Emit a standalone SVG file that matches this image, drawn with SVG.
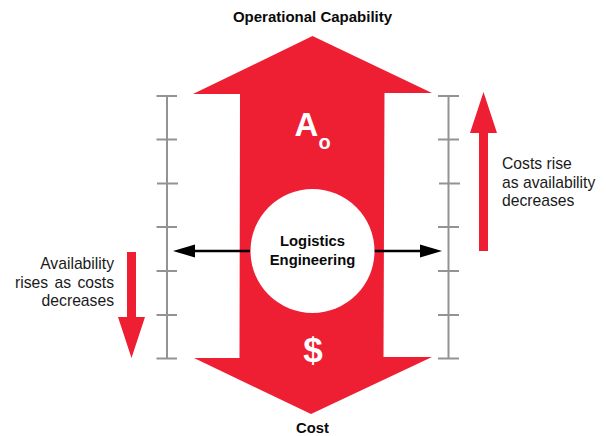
<svg xmlns="http://www.w3.org/2000/svg" width="606" height="436" viewBox="0 0 606 436">
<style>
.b{font-family:"Liberation Sans",Arial,sans-serif;font-weight:700;fill:#0a0a0a;font-size:14.8px;text-anchor:middle}
.t{font-family:"Liberation Sans",Arial,sans-serif;fill:#1a1a1a;font-size:15.7px}
.w{font-family:"Liberation Sans",Arial,sans-serif;font-weight:700;fill:#fff;text-anchor:middle}
.s{stroke:#939393;stroke-width:2;fill:none}
.k{stroke:#000;stroke-width:2.6;fill:none}
.r{fill:#ee1e33}
</style>
<rect width="606" height="436" fill="#fff"/>
<g id="main-arrow">
<path class="r" d="M312.5 36L432 93H384.5L383.5 357H432L311 414L194 358H239.500L240 94H193Z"/>
<text class="w" x="306.500" y="136" font-size="33">A</text>
<text class="w" x="324.700" y="149" font-size="20">o</text>
<text class="w" x="313" y="362" font-size="35">$</text>
</g>
<g id="scale-left">
<path class="s" d="M167 96V358.500M156.500 96H177M156.500 139.500H177M157 183.500H178M156.500 227H177M156.500 271H177M156.500 315H177M156.500 358.500H177"/>
</g>
<g id="scale-right">
<path class="s" d="M448.500 96V358.500M438 96H459M438 139.500H459M439 183.500H460M438 227H459M438 271H459M438 315H459M438 358.500H459"/>
</g>
<g id="connectors">
<path class="k" d="M250 251H190"/>
<path d="M173 251L195 244.500V257.500Z"/>
<path class="k" d="M374 251H425"/>
<path d="M442 251L420 244.500V257.500Z"/>
</g>
<g id="logistics">
<circle cx="312.500" cy="251" r="62" fill="#fff"/>
<text class="b" x="312.500" y="246">Logistics</text>
<text class="b" x="312.500" y="265">Engineering</text>
</g>
<g id="top-label"><text class="b" x="312.500" y="22" style="font-size:15px">Operational Capability</text></g>
<g id="bottom-label"><text class="b" x="312.500" y="433">Cost</text></g>
<g id="left-note">
<path class="r" d="M127 252H136V317H145L131.500 358L118 317H127Z"/>
<text class="t" text-anchor="end" x="114" y="269">Availability</text>
<text class="t" text-anchor="end" x="114" y="288" word-spacing="2">rises as costs</text>
<text class="t" text-anchor="end" x="114" y="306">decreases</text>
</g>
<g id="right-note">
<path class="r" d="M479 251H488V133H497L483.500 92L470 133H479Z"/>
<text class="t" x="502" y="169">Costs rise</text>
<text class="t" x="502" y="188">as availability</text>
<text class="t" x="502" y="206">decreases</text>
</g>
</svg>
